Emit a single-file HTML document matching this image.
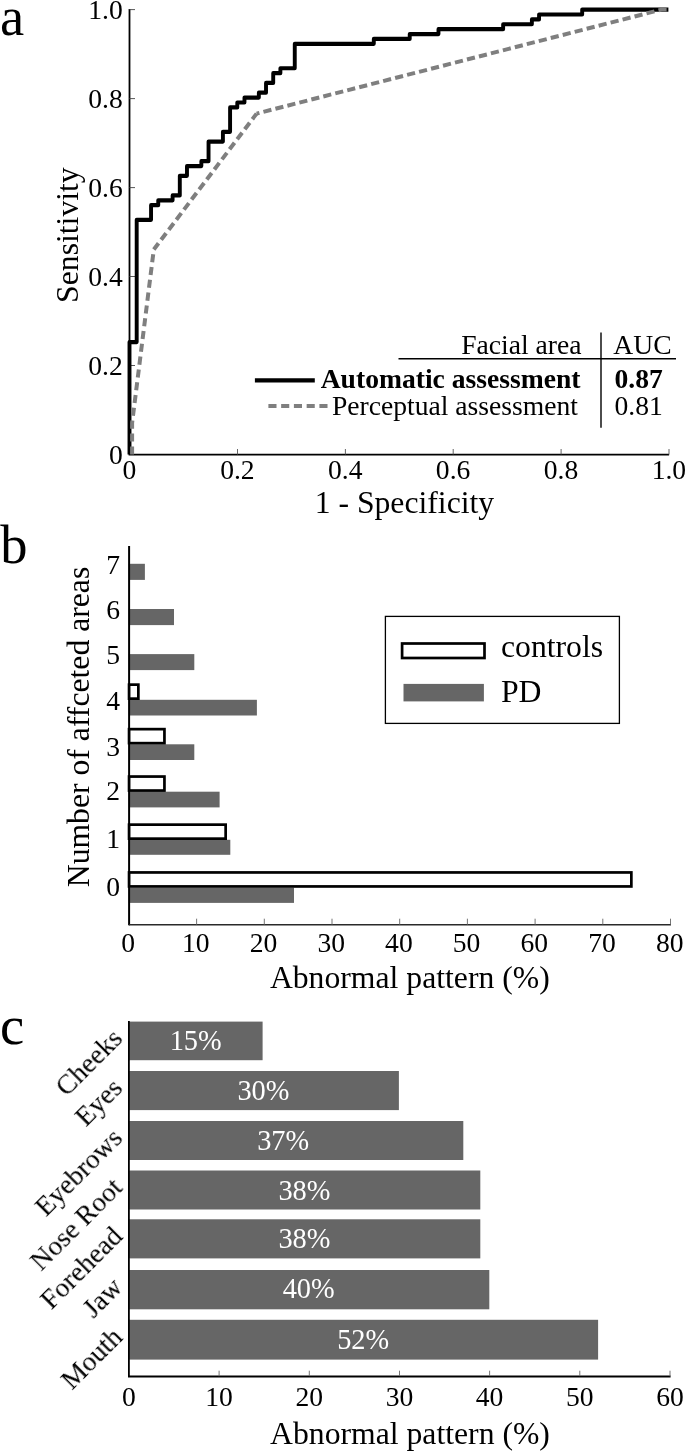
<!DOCTYPE html>
<html><head><meta charset="utf-8"><title>Figure</title>
<style>
html,body{margin:0;padding:0;background:#fff;}
body{width:685px;height:1451px;overflow:hidden;font-family:"Liberation Serif",serif;}
svg{display:block;}
text{font-family:"Liberation Serif",serif;fill:#000;}
</style></head><body>
<svg width="685" height="1451" viewBox="0 0 685 1451">
<defs><filter id="soft" filterUnits="userSpaceOnUse" x="0" y="0" width="685" height="1451"><feGaussianBlur stdDeviation="0.45"/></filter></defs>
<rect x="0" y="0" width="685" height="1451" fill="#fff"/>
<g filter="url(#soft)">

<g id="panel-a">
<text x="0" y="35.2" font-size="54.5">a</text>
<path d="M129.5,9.1 V454.6 H669.1" fill="none" stroke="#000" stroke-width="1.8"/>
<text x="122.8" y="463.8" font-size="27.6" text-anchor="end">0</text>
<line x1="129.4" y1="365.5" x2="135.0" y2="365.5" stroke="#444" stroke-width="0.9"/>
<text x="122.8" y="374.8" font-size="27.6" text-anchor="end">0.2</text>
<line x1="129.4" y1="276.5" x2="135.0" y2="276.5" stroke="#444" stroke-width="0.9"/>
<text x="122.8" y="285.8" font-size="27.6" text-anchor="end">0.4</text>
<line x1="129.4" y1="187.6" x2="135.0" y2="187.6" stroke="#444" stroke-width="0.9"/>
<text x="122.8" y="196.9" font-size="27.6" text-anchor="end">0.6</text>
<line x1="129.4" y1="98.6" x2="135.0" y2="98.6" stroke="#444" stroke-width="0.9"/>
<text x="122.8" y="107.9" font-size="27.6" text-anchor="end">0.8</text>
<line x1="129.4" y1="9.6" x2="135.0" y2="9.6" stroke="#444" stroke-width="0.9"/>
<text x="122.8" y="18.9" font-size="27.6" text-anchor="end">1.0</text>
<text x="129.5" y="478.6" font-size="27.6" text-anchor="middle">0</text>
<line x1="237.5" y1="454.5" x2="237.5" y2="449.0" stroke="#555" stroke-width="0.9"/>
<text x="237.4" y="478.6" font-size="27.6" text-anchor="middle">0.2</text>
<line x1="345.4" y1="454.5" x2="345.4" y2="449.0" stroke="#555" stroke-width="0.9"/>
<text x="345.3" y="478.6" font-size="27.6" text-anchor="middle">0.4</text>
<line x1="453.2" y1="454.5" x2="453.2" y2="449.0" stroke="#555" stroke-width="0.9"/>
<text x="453.1" y="478.6" font-size="27.6" text-anchor="middle">0.6</text>
<line x1="561.1" y1="454.5" x2="561.1" y2="449.0" stroke="#555" stroke-width="0.9"/>
<text x="561.0" y="478.6" font-size="27.6" text-anchor="middle">0.8</text>
<line x1="669.0" y1="454.5" x2="669.0" y2="449.0" stroke="#555" stroke-width="0.9"/>
<text x="668.9" y="478.6" font-size="27.6" text-anchor="middle">1.0</text>
<text x="404.4" y="513.2" font-size="31.7" text-anchor="middle">1 - Specificity</text>
<text transform="translate(78.2,235.1) rotate(-90)" font-size="31.7" text-anchor="middle">Sensitivity</text>
<path transform="scale(1,1.08)" d="M129.50,420.83 V316.72 H136.69 V203.54 H151.06 V189.96 H158.24 V185.44 H172.61 V180.91 H179.80 V162.80 H186.98 V153.75 H201.35 V149.22 H208.54 V131.11 H222.91 V122.06 H230.09 V99.43 H237.28 V94.90 H244.47 V90.37 H258.84 V85.85 H266.02 V76.79 H273.21 V67.74 H280.39 V63.21 H294.76 V40.58 H373.80 V36.05 H409.73 V31.52 H438.47 V27.00 H503.14 V22.47 H531.88 V17.94 H539.06 V13.42 H582.18 V8.89 H668.40 V8.89" fill="none" stroke="#000" stroke-width="3.9" stroke-linejoin="round" stroke-linecap="butt"/>
<path d="M132.1,454.5 L132.1,423 L153.8,249.5" fill="none" stroke="#7f7f7f" stroke-width="4" stroke-dasharray="8.1,4.8" stroke-linejoin="round"/>
<path d="M153.8,249.5 L256.6,113.6" fill="none" stroke="#7f7f7f" stroke-width="4" stroke-dasharray="8.2,4.4" stroke-dashoffset="0.4" stroke-linecap="butt"/>
<path d="M668.4,9.6 L661.4,9.6 L256.6,113.6" fill="none" stroke="#7f7f7f" stroke-width="4" stroke-dasharray="8.2,4.16" stroke-dashoffset="10.56" stroke-linejoin="round"/>
<line x1="398.5" y1="358.8" x2="676" y2="358.8" stroke="#000" stroke-width="1.4"/>
<line x1="601" y1="332.5" x2="601" y2="427.8" stroke="#000" stroke-width="1.4"/>
<text x="581.5" y="354" font-size="27.6" text-anchor="end">Facial area</text>
<text x="642.5" y="354" font-size="27.6" text-anchor="middle">AUC</text>
<text x="580.5" y="388.3" font-size="27.6" font-weight="bold" text-anchor="end">Automatic assessment</text>
<text x="578" y="414.8" font-size="27.6" text-anchor="end">Perceptual assessment</text>
<text x="614.5" y="388.3" font-size="27.6" font-weight="bold">0.87</text>
<text x="614.5" y="414.8" font-size="27.6">0.81</text>
<line x1="254.9" y1="380.4" x2="314.8" y2="380.4" stroke="#000" stroke-width="4.2"/>
<line x1="268.4" y1="406" x2="327.6" y2="406" stroke="#7f7f7f" stroke-width="4.2" stroke-dasharray="8.1,4.65"/>
</g>
<g id="panel-b">
<text x="0.3" y="562.5" font-size="54.5">b</text>
<rect x="128.9" y="563.8" width="16.0" height="16.1" fill="#666666"/>
<rect x="128.9" y="609.0" width="45.1" height="16.1" fill="#666666"/>
<rect x="128.9" y="654.1" width="65.4" height="16.0" fill="#666666"/>
<rect x="128.9" y="699.8" width="128.0" height="15.7" fill="#666666"/>
<rect x="128.9" y="744.3" width="65.4" height="15.7" fill="#666666"/>
<rect x="128.9" y="791.7" width="90.7" height="15.7" fill="#666666"/>
<rect x="128.9" y="839.8" width="101.4" height="15.0" fill="#666666"/>
<rect x="128.9" y="887.6" width="165.1" height="15.3" fill="#666666"/>
<rect x="129.05" y="684.65" width="9.30" height="14.00" fill="#fff" stroke="#000" stroke-width="2.7"/>
<rect x="129.05" y="729.15" width="35.40" height="14.00" fill="#fff" stroke="#000" stroke-width="2.7"/>
<rect x="129.05" y="776.55" width="35.40" height="14.00" fill="#fff" stroke="#000" stroke-width="2.7"/>
<rect x="129.05" y="824.65" width="96.60" height="14.00" fill="#fff" stroke="#000" stroke-width="2.7"/>
<rect x="129.05" y="872.45" width="502.30" height="14.00" fill="#fff" stroke="#000" stroke-width="2.7"/>
<line x1="129.1" y1="546" x2="129.1" y2="925.2" stroke="#000" stroke-width="2"/>
<line x1="128.9" y1="924.7" x2="671.0" y2="924.7" stroke="#2a2a2a" stroke-width="1.4"/>
<text x="128.1" y="952.3" font-size="27.6" text-anchor="middle">0</text>
<line x1="196.6" y1="924.7" x2="196.6" y2="918.7" stroke="#666" stroke-width="0.9"/>
<text x="195.8" y="952.3" font-size="27.6" text-anchor="middle">10</text>
<line x1="264.3" y1="924.7" x2="264.3" y2="918.7" stroke="#666" stroke-width="0.9"/>
<text x="263.5" y="952.3" font-size="27.6" text-anchor="middle">20</text>
<line x1="332.0" y1="924.7" x2="332.0" y2="918.7" stroke="#666" stroke-width="0.9"/>
<text x="331.2" y="952.3" font-size="27.6" text-anchor="middle">30</text>
<line x1="399.7" y1="924.7" x2="399.7" y2="918.7" stroke="#666" stroke-width="0.9"/>
<text x="398.9" y="952.3" font-size="27.6" text-anchor="middle">40</text>
<line x1="467.4" y1="924.7" x2="467.4" y2="918.7" stroke="#666" stroke-width="0.9"/>
<text x="466.6" y="952.3" font-size="27.6" text-anchor="middle">50</text>
<line x1="535.1" y1="924.7" x2="535.1" y2="918.7" stroke="#666" stroke-width="0.9"/>
<text x="534.3" y="952.3" font-size="27.6" text-anchor="middle">60</text>
<line x1="602.8" y1="924.7" x2="602.8" y2="918.7" stroke="#666" stroke-width="0.9"/>
<text x="602.0" y="952.3" font-size="27.6" text-anchor="middle">70</text>
<line x1="670.5" y1="924.7" x2="670.5" y2="918.7" stroke="#666" stroke-width="0.9"/>
<text x="669.7" y="952.3" font-size="27.6" text-anchor="middle">80</text>
<text x="120" y="574.1" font-size="27.6" text-anchor="end">7</text>
<text x="120" y="619.3" font-size="27.6" text-anchor="end">6</text>
<text x="120" y="663.9" font-size="27.6" text-anchor="end">5</text>
<text x="120" y="709.9" font-size="27.6" text-anchor="end">4</text>
<text x="120" y="756.3" font-size="27.6" text-anchor="end">3</text>
<text x="120" y="800.1" font-size="27.6" text-anchor="end">2</text>
<text x="120" y="847.8" font-size="27.6" text-anchor="end">1</text>
<text x="120" y="895.9" font-size="27.6" text-anchor="end">0</text>
<text x="409.8" y="988.2" font-size="31.7" text-anchor="middle">Abnormal pattern (%)</text>
<text transform="translate(89.2,727) rotate(-90)" font-size="31.7" text-anchor="middle">Number of affceted areas</text>
<rect x="385.4" y="616.4" width="234" height="107" fill="#fff" stroke="#000" stroke-width="1.3"/>
<rect x="402.1" y="643.5" width="82.4" height="14.5" fill="#fff" stroke="#000" stroke-width="2.7"/>
<rect x="403.5" y="683.9" width="80.4" height="17.5" fill="#666666"/>
<text x="501" y="656.5" font-size="31.7">controls</text>
<text x="501" y="702" font-size="31.7">PD</text>
</g>
<g id="panel-c">
<text x="0" y="1044" font-size="54.5">c</text>
<rect x="128.9" y="1021.6" width="133.7" height="38.6" fill="#666666"/>
<text x="195.7" y="1049.8" font-size="28.4" text-anchor="middle" style="fill:#fff">15%</text>
<text transform="translate(119.0,1035.0) rotate(-45)" font-size="27.6" text-anchor="end" dy="7">Cheeks</text>
<rect x="128.9" y="1071.0" width="270.0" height="39.1" fill="#666666"/>
<text x="263.4" y="1100.2" font-size="28.4" text-anchor="middle" style="fill:#fff">30%</text>
<text transform="translate(119.0,1084.6) rotate(-45)" font-size="27.6" text-anchor="end" dy="7">Eyes</text>
<rect x="128.9" y="1121.0" width="334.4" height="39.0" fill="#666666"/>
<text x="283.2" y="1149.5" font-size="28.4" text-anchor="middle" style="fill:#fff">37%</text>
<text transform="translate(119.0,1134.6) rotate(-45)" font-size="27.6" text-anchor="end" dy="7">Eyebrows</text>
<rect x="128.9" y="1170.5" width="351.4" height="39.0" fill="#666666"/>
<text x="304.4" y="1199.5" font-size="28.4" text-anchor="middle" style="fill:#fff">38%</text>
<text transform="translate(119.0,1184.1) rotate(-45)" font-size="27.6" text-anchor="end" dy="7">Nose Root</text>
<rect x="128.9" y="1219.3" width="351.4" height="39.1" fill="#666666"/>
<text x="304.4" y="1248.0" font-size="28.4" text-anchor="middle" style="fill:#fff">38%</text>
<text transform="translate(119.0,1232.9) rotate(-45)" font-size="27.6" text-anchor="end" dy="7">Forehead</text>
<rect x="128.9" y="1270.0" width="360.4" height="39.3" fill="#666666"/>
<text x="308.7" y="1298.1" font-size="28.4" text-anchor="middle" style="fill:#fff">40%</text>
<text transform="translate(119.0,1283.8) rotate(-45)" font-size="27.6" text-anchor="end" dy="7">Jaw</text>
<rect x="128.9" y="1319.8" width="469.2" height="39.8" fill="#666666"/>
<text x="363.2" y="1348.5" font-size="28.4" text-anchor="middle" style="fill:#fff">52%</text>
<text transform="translate(119.0,1333.8) rotate(-45)" font-size="27.6" text-anchor="end" dy="7">Mouth</text>
<path d="M128.9,1021 V1376.5 H670.6" fill="none" stroke="#000" stroke-width="1.8"/>
<text x="128.9" y="1405.7" font-size="27.6" text-anchor="middle">0</text>
<line x1="219.1" y1="1376.2" x2="219.1" y2="1370.7" stroke="#666" stroke-width="0.9"/>
<text x="219.1" y="1405.7" font-size="27.6" text-anchor="middle">10</text>
<line x1="309.3" y1="1376.2" x2="309.3" y2="1370.7" stroke="#666" stroke-width="0.9"/>
<text x="309.3" y="1405.7" font-size="27.6" text-anchor="middle">20</text>
<line x1="399.5" y1="1376.2" x2="399.5" y2="1370.7" stroke="#666" stroke-width="0.9"/>
<text x="399.5" y="1405.7" font-size="27.6" text-anchor="middle">30</text>
<line x1="489.6" y1="1376.2" x2="489.6" y2="1370.7" stroke="#666" stroke-width="0.9"/>
<text x="489.6" y="1405.7" font-size="27.6" text-anchor="middle">40</text>
<line x1="579.8" y1="1376.2" x2="579.8" y2="1370.7" stroke="#666" stroke-width="0.9"/>
<text x="579.8" y="1405.7" font-size="27.6" text-anchor="middle">50</text>
<line x1="670.0" y1="1376.2" x2="670.0" y2="1370.7" stroke="#666" stroke-width="0.9"/>
<text x="670.0" y="1405.7" font-size="27.6" text-anchor="middle">60</text>
<text x="410" y="1443.6" font-size="31.7" text-anchor="middle">Abnormal pattern (%)</text>
</g>
</g>
</svg></body></html>
